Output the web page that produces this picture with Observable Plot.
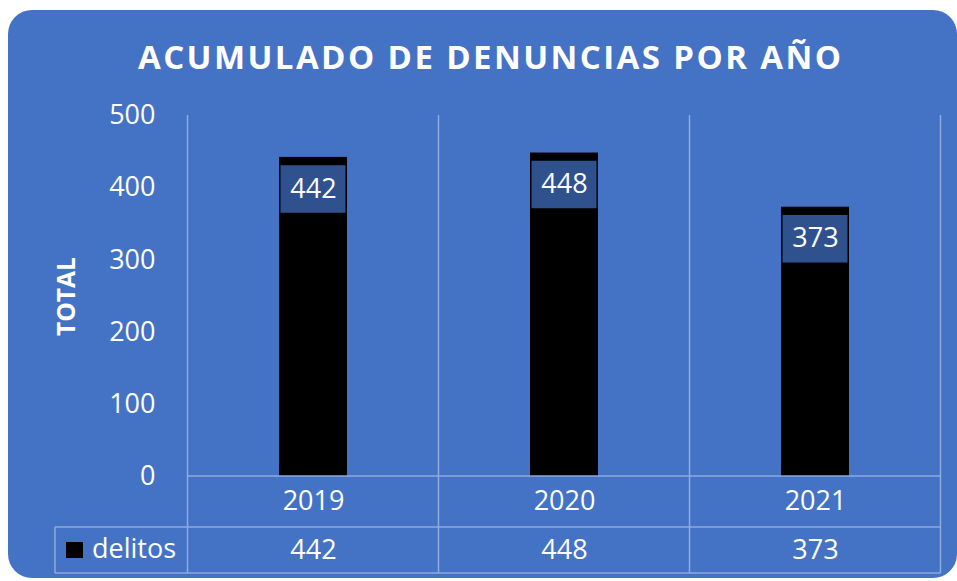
<!DOCTYPE html>
<html><head><meta charset="utf-8">
<script src="https://cdn.jsdelivr.net/npm/d3@7"></script>
<script src="https://cdn.jsdelivr.net/npm/@observablehq/plot@0.6"></script>
<style>body{margin:0;background:#fff;} svg{display:block}</style>
</head><body><div id="chart"></div>
<script>
const years = ["2019", "2020", "2021"];
const delitos = [442, 448, 373];
const yTicks = [0, 100, 200, 300, 400, 500];
const seriesName = "delitos";
const title = "ACUMULADO DE DENUNCIAS POR AÑO";
const yLabel = "TOTAL";

const data = years.map((y, i) => ({year: y, value: delitos[i]}));
const W = 957, H = 581, mL = 186, mR = 16, mT = 115, mB = 105;
const blue = "#4472C4", boxBlue = "#2F528F", lineC = "#8FAADC";
const font = "'Open Sans', sans-serif";

const chart = Plot.plot({
  width: W, height: H, marginLeft: mL, marginRight: mR, marginTop: mT, marginBottom: mB,
  style: {fontFamily: font, fontSize: "27px", color: "white", background: "transparent", overflow: "visible"},
  x: {domain: years, paddingInner: 0.73, paddingOuter: 0.365, label: null},
  y: {domain: [0, 500], ticks: yTicks, label: null},
  marks: [
    Plot.barY(data, {x: "year", y: "value", fill: "black"}),
    Plot.tickY(data, {x: "year", y: "value", stroke: boxBlue, strokeWidth: 47.5, dy: 31.5, inset: 1.5}),
    Plot.text(data, {x: "year", y: "value", text: d => String(d.value), dy: 31.5, fill: "white", fontSize: 27}),
    Plot.axisY({ticks: yTicks, tickSize: 0, tickPadding: 31, fontSize: 27, label: null}),
    Plot.axisX({tickSize: 0, tickPadding: 14, fontSize: 27, label: null}),
    Plot.text(data, {x: "year", text: d => String(d.value), frameAnchor: "bottom", dy: 82, fill: "white", fontSize: 27})
  ]
});

const svg = d3.select(chart);
// background panel
svg.insert("rect", ":first-child")
  .attr("x", 8).attr("y", 10).attr("width", 949).attr("height", 568)
  .attr("rx", 24).attr("fill", blue);

const xs = chart.scale("x");
const ys = chart.scale("y");
const half = xs.step / 2;
const centers = years.map(c => xs.apply(c) + xs.bandwidth / 2);
const edges = centers.map(c => c - half).concat([centers[centers.length - 1] + half]);
const y0 = ys.apply(0), yTop = ys.apply(500);
const row1 = 527, row2 = 573, tableLeft = 55;

const g = svg.append("g").attr("stroke", lineC).attr("stroke-width", 1.5);
edges.forEach(x => g.append("line").attr("x1", x).attr("x2", x).attr("y1", yTop).attr("y2", row2));
g.append("line").attr("x1", edges[0]).attr("x2", edges[edges.length - 1]).attr("y1", y0).attr("y2", y0);
[row1, row2].forEach(y => g.append("line").attr("x1", tableLeft).attr("x2", edges[edges.length - 1]).attr("y1", y).attr("y2", y));
g.append("line").attr("x1", tableLeft).attr("x2", tableLeft).attr("y1", row1).attr("y2", row2);

// legend key in table
svg.append("rect").attr("x", 66).attr("y", 542).attr("width", 17).attr("height", 16).attr("fill", "black");
svg.append("text").attr("x", 92).attr("y", 549).attr("dy", "0.35em").attr("text-anchor", "start")
  .attr("fill", "white").attr("font-family", font).attr("font-size", 27).text(seriesName);

// title
svg.append("text").attr("x", 138).attr("y", 69).attr("text-anchor", "start")
  .attr("fill", "white").attr("font-family", font).attr("font-weight", "bold").attr("font-size", 33)
  .attr("textLength", 703).attr("lengthAdjust", "spacing").text(title);

// y label
svg.append("text").attr("transform", "translate(75,296.5) rotate(-90)")
  .attr("text-anchor", "middle").attr("fill", "white").attr("font-family", font)
  .attr("font-weight", "bold").attr("font-size", 25).attr("textLength", 79).attr("lengthAdjust", "spacingAndGlyphs")
  .text(yLabel);

document.getElementById("chart").appendChild(chart);
</script>
</body></html>
